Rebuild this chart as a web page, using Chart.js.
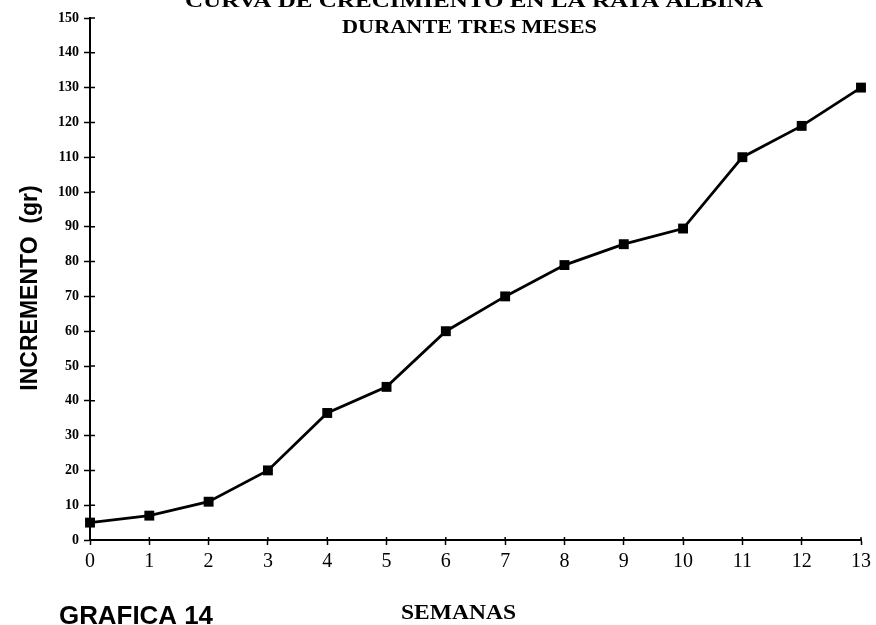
<!DOCTYPE html>
<html>
<head>
<meta charset="utf-8">
<script src="https://cdn.jsdelivr.net/npm/chart.js@4/dist/chart.umd.min.js"></script>
<style>
  html, body { margin: 0; padding: 0; background: #fff; }
  #wrap { width: 876px; height: 625px; position: relative; }
</style>
</head>
<body>
<div id="wrap"><canvas id="chart"></canvas></div>
<script>
// semanas (x) and incremento en gramos (y)
const semanas = [0, 1, 2, 3, 4, 5, 6, 7, 8, 9, 10, 11, 12, 13];
const incremento = [5, 7, 11, 20, 36.5, 44, 60, 70, 79, 85, 89.5, 110, 119, 130];
const yTicks = [0, 10, 20, 30, 40, 50, 60, 70, 80, 90, 100, 110, 120, 130, 140, 150];

const tituloL1 = 'CURVA DE CRECIMIENTO EN LA RATA ALBINA';
const tituloL2 = 'DURANTE TRES MESES';
const ejeY = 'INCREMENTO  (gr)';
const ejeX = 'SEMANAS';
const grafica = 'GRAFICA 14';

const points = semanas.map(function(s, i){ return { x: s, y: incremento[i] }; });

// draws text stretched to a given width (the scan has very wide bold type)
function wideText(ctx, txt, left, y, w){
  const m = ctx.measureText(txt).width;
  ctx.save();
  ctx.translate(left, y);
  ctx.scale(w / m, 1);
  ctx.textAlign = 'left';
  ctx.fillText(txt, 0, 0);
  ctx.restore();
}

const textos = {
  id: 'textos',
  afterDraw: function(chart){
    const ctx = chart.ctx;
    ctx.save();
    ctx.fillStyle = '#000';
    ctx.textBaseline = 'alphabetic';

    ctx.font = 'bold 18px "Liberation Serif"';
    wideText(ctx, tituloL1, 185, 7, 578);
    wideText(ctx, tituloL2, 342, 33, 255);

    ctx.font = 'bold 20px "Liberation Serif"';
    wideText(ctx, ejeX, 401, 619, 115);

    ctx.font = 'bold 25px "Liberation Sans"';
    wideText(ctx, grafica, 59, 624, 154);

    ctx.translate(37, 288);
    ctx.rotate(-Math.PI / 2);
    ctx.textAlign = 'center';
    ctx.font = 'bold 23px "Liberation Sans"';
    ctx.fillText(ejeY, 0, 0);
    ctx.restore();
  }
};

// tick marks in the scan cross the axis line, add the inner half
const ticksDentro = {
  id: 'ticksDentro',
  afterDatasetsDraw: function(chart){
    const ctx = chart.ctx;
    const xs = chart.scales.x, ys = chart.scales.y;
    ctx.save();
    ctx.strokeStyle = '#000';
    ctx.lineWidth = 1.5;
    ctx.beginPath();
    ys.ticks.forEach(function(t){
      const py = ys.getPixelForValue(t.value);
      ctx.moveTo(xs.left, py);
      ctx.lineTo(xs.left + 5, py);
    });
    xs.ticks.forEach(function(t){
      const px = xs.getPixelForValue(t.value);
      ctx.moveTo(px, ys.bottom);
      ctx.lineTo(px, ys.bottom - 3);
    });
    ctx.stroke();
    ctx.restore();
  }
};

new Chart(document.getElementById('chart'), {
  type: 'line',
  data: {
    datasets: [{
      data: points,
      borderColor: '#000',
      backgroundColor: '#000',
      borderWidth: 2.8,
      tension: 0,
      pointStyle: 'rect',
      pointRadius: 7,
      pointBorderWidth: 0,
      fill: false,
      clip: false
    }]
  },
  options: {
    responsive: true,
    maintainAspectRatio: false,
    animation: false,
    layout: { padding: { top: 18, right: 12, left: 0, bottom: 0 } },
    plugins: {
      legend: { display: false },
      tooltip: { enabled: false }
    },
    scales: {
      x: {
        type: 'linear',
        min: 0,
        max: 13,
        afterFit: function(scale){ scale.height = 85; },
        border: { color: '#000', width: 2 },
        grid: { drawOnChartArea: false, color: '#000', tickLength: 5, tickWidth: 1.5 },
        ticks: {
          stepSize: 1,
          color: '#000',
          padding: 5,
          maxRotation: 0,
          font: { family: 'Liberation Serif', size: 20 }
        }
      },
      y: {
        min: 0,
        max: 150,
        afterFit: function(scale){ scale.width = 90; },
        afterBuildTicks: function(scale){ scale.ticks = yTicks.map(function(v){ return { value: v }; }); },
        border: { color: '#000', width: 2 },
        grid: { drawOnChartArea: false, color: '#000', tickLength: 6, tickWidth: 1.5 },
        ticks: {
          color: '#000',
          padding: 5,
          font: { family: 'Liberation Serif', size: 14, weight: 'bold' }
        }
      }
    }
  },
  plugins: [textos, ticksDentro]
});
</script>
</body>
</html>
